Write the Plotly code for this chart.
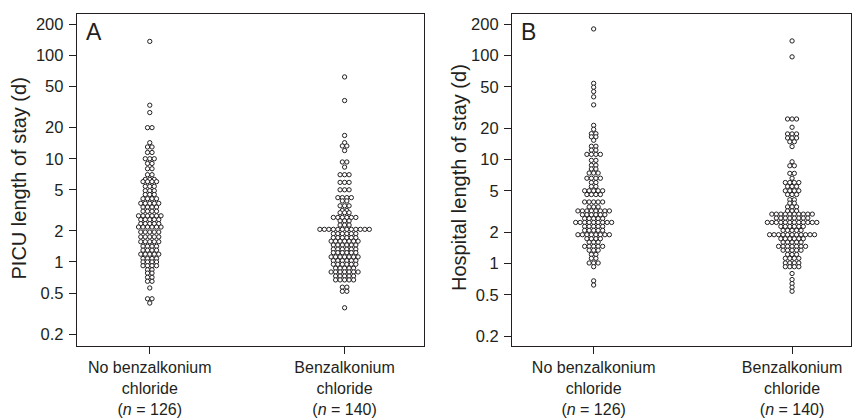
import numpy as np
import plotly.graph_objects as go

# ---------------- data ----------------
groups = ["No benzalkonium<br>chloride<br>(<i>n</i> = 126)",
          "Benzalkonium<br>chloride<br>(<i>n</i> = 140)"]
y_ticks = [0.2, 0.5, 1, 2, 5, 10, 20, 50, 100, 200]
y_tick_labels = ["0.2", "0.5", "1", "2", "5", "10", "20", "50", "100", "200"]

# Panel A: PICU length of stay (d) -- distinct values and how many patients share each
picu_no_levels = [137, 33, 28, 20, 14.3, 13, 11.5, 10, 9, 8, 7, 6.3, 6, 5.4, 4.9, 4.5, 4.1,
                  3.7, 3.4, 3.1, 2.8, 2.57, 2.35, 2.18, 1.95, 1.75, 1.57, 1.42, 1.3, 1.19,
                  1.08, 1.0, 0.92, 0.84, 0.78, 0.71, 0.65, 0.56, 0.44, 0.4]
picu_no_counts = [1, 1, 1, 2, 1, 2, 2, 3, 2, 2, 2, 3, 4, 3, 3, 3, 4,
                  5, 4, 4, 6, 5, 5, 6, 5, 5, 5, 4, 4, 5,
                  4, 4, 4, 2, 2, 2, 2, 1, 2, 1]

picu_bac_levels = [62, 36.6, 16.8, 14.3, 13.3, 12, 9.3, 8.3, 7, 5.9, 5.0, 4.2, 3.9, 3.5,
                   3.15, 3.0, 2.7, 2.5, 2.28, 2.07, 1.88, 1.72, 1.59, 1.46, 1.33, 1.23,
                   1.12, 1.03, 0.95, 0.87, 0.80, 0.73, 0.67, 0.57, 0.52, 0.36]
picu_bac_counts = [1, 1, 1, 1, 2, 1, 2, 1, 3, 3, 3, 4, 2, 3,
                   2, 3, 6, 3, 3, 12, 6, 6, 7, 6, 6, 6,
                   7, 6, 6, 5, 7, 5, 5, 2, 2, 1]

# Panel B: Hospital length of stay (d)
hosp_no_levels = [180, 54, 49.5, 45, 40, 33.5, 21.3, 19.5, 17.7, 16.5, 15.3, 13.4, 12.3,
                  11.2, 9.8, 8.8, 8.1, 7.4, 6.6, 6.0, 5.5, 5.0, 4.6, 3.9, 3.5, 3.2, 2.94,
                  2.7, 2.48, 2.27, 2.08, 1.89, 1.73, 1.6, 1.46, 1.34, 1.22, 1.12, 1.01,
                  0.93, 0.68, 0.62]
hosp_no_counts = [1, 1, 1, 1, 1, 1, 1, 1, 2, 2, 1, 2, 2,
                  4, 2, 2, 2, 3, 4, 2, 2, 5, 4, 5, 3, 8, 6,
                  5, 9, 5, 5, 8, 4, 3, 5, 3, 2, 2, 3,
                  1, 1, 1]

hosp_bac_levels = [138, 97, 24.5, 20.4, 17.6, 16.1, 14.8, 13.3, 9.5, 8.7, 7.35, 6.6, 6.0,
                   5.5, 5.0, 4.6, 4.1, 3.8, 3.5, 3.2, 2.98, 2.73, 2.48, 2.27, 2.08, 1.89,
                   1.73, 1.6, 1.46, 1.34, 1.22, 1.12, 1.01, 0.93, 0.8, 0.7, 0.64, 0.59, 0.54]
hosp_bac_counts = [1, 1, 3, 1, 3, 3, 2, 1, 1, 2, 2, 1, 4,
                   3, 4, 3, 2, 2, 3, 3, 10, 8, 12, 6, 5, 11,
                   6, 5, 7, 5, 3, 4, 4, 4, 1, 1, 1, 1, 1]

# ---------------- geometry / style ----------------
W, H = 853, 418
TOP, BOTTOM = 14, 349
A_LEFT, A_RIGHT = 77, 424
B_LEFT, B_RIGHT = 512.7, 852.4
XA_RANGE = [-0.374, 1.405]
XB_RANGE = [-0.411, 1.299]
YA_RANGE = [-0.814, 2.402]
YB_RANGE = [-0.794, 2.399]
SPACING = 4.5        # horizontal distance between neighbours in a row, px
INK = "#231f20"
FONT = "Liberation Sans, Arial, sans-serif"


def expand(levels, counts):
    return np.repeat(np.asarray(levels, dtype=float), counts)


def row_offsets(values, spacing):
    """Column-scatter layout: equal values form a centred horizontal row."""
    xs = np.zeros(len(values))
    for v in np.unique(values):
        idx = np.where(values == v)[0]
        n = len(idx)
        xs[idx] = (np.arange(n) - (n - 1) / 2.0) * spacing
    return xs


fig = go.Figure()

panels = [
    ("x", "y", A_LEFT, A_RIGHT, XA_RANGE,
     [expand(picu_no_levels, picu_no_counts), expand(picu_bac_levels, picu_bac_counts)]),
    ("x2", "y2", B_LEFT, B_RIGHT, XB_RANGE,
     [expand(hosp_no_levels, hosp_no_counts), expand(hosp_bac_levels, hosp_bac_counts)]),
]

for xa, ya, left, right, xr, data in panels:
    ppx = (right - left) / (xr[1] - xr[0])
    for gi, vals in enumerate(data):
        off = row_offsets(vals, SPACING)
        fig.add_trace(go.Scatter(
            x=gi + off / ppx, y=vals, mode="markers", xaxis=xa, yaxis=ya,
            marker=dict(size=4.3, color="white", line=dict(color=INK, width=1)),
            hoverinfo="y", showlegend=False))

axis_common = dict(showline=True, linecolor=INK, linewidth=1.3, mirror=True,
                   ticks="outside", ticklen=7, tickwidth=1.3, tickcolor=INK,
                   showgrid=False, zeroline=False)
xfont = dict(family=FONT, size=16, color=INK)
yfont = dict(family=FONT, size=16.5, color=INK)

fig.update_layout(
    width=W, height=H,
    margin=dict(l=0, r=0, t=TOP, b=H - BOTTOM),
    paper_bgcolor="white", plot_bgcolor="white",
    showlegend=False,
    xaxis=dict(domain=[A_LEFT / W, A_RIGHT / W], range=XA_RANGE, anchor="y",
               tickvals=[0, 1], ticktext=groups, tickfont=xfont, **axis_common),
    yaxis=dict(domain=[0, 1], type="log", range=YA_RANGE, anchor="x",
               tickvals=y_ticks, ticktext=y_tick_labels, tickfont=yfont,
               ticklabelstandoff=2, **axis_common),
    xaxis2=dict(domain=[B_LEFT / W, B_RIGHT / W], range=XB_RANGE, anchor="y2",
                tickvals=[0, 1], ticktext=groups, tickfont=xfont, **axis_common),
    yaxis2=dict(domain=[0, 1], type="log", range=YB_RANGE, anchor="x2",
                tickvals=y_ticks, ticktext=y_tick_labels, tickfont=yfont,
                ticklabelstandoff=2, **axis_common),
    annotations=[
        dict(text="A", xref="x domain", yref="y domain", x=(94 - A_LEFT) / (A_RIGHT - A_LEFT),
             y=(BOTTOM - 32) / (BOTTOM - TOP),
             xanchor="center", yanchor="middle", showarrow=False,
             font=dict(family=FONT, size=23, color=INK)),
        dict(text="B", xref="x2 domain", yref="y2 domain", x=(529 - B_LEFT) / (B_RIGHT - B_LEFT),
             y=(BOTTOM - 32) / (BOTTOM - TOP),
             xanchor="center", yanchor="middle", showarrow=False,
             font=dict(family=FONT, size=23, color=INK)),
        dict(text="PICU length of stay (d)", xref="paper", yref="paper",
             x=19 / W, y=(BOTTOM - 180) / (BOTTOM - TOP), textangle=-90,
             xanchor="center", yanchor="middle", showarrow=False,
             font=dict(family=FONT, size=20, color=INK)),
        dict(text="Hospital length of stay (d)", xref="paper", yref="paper",
             x=459 / W, y=(BOTTOM - 179) / (BOTTOM - TOP), textangle=-90,
             xanchor="center", yanchor="middle", showarrow=False,
             font=dict(family=FONT, size=20, color=INK)),
    ],
)

fig.write_html("out.html", config={"displayModeBar": False},
               post_script="document.body.style.margin='0';")
